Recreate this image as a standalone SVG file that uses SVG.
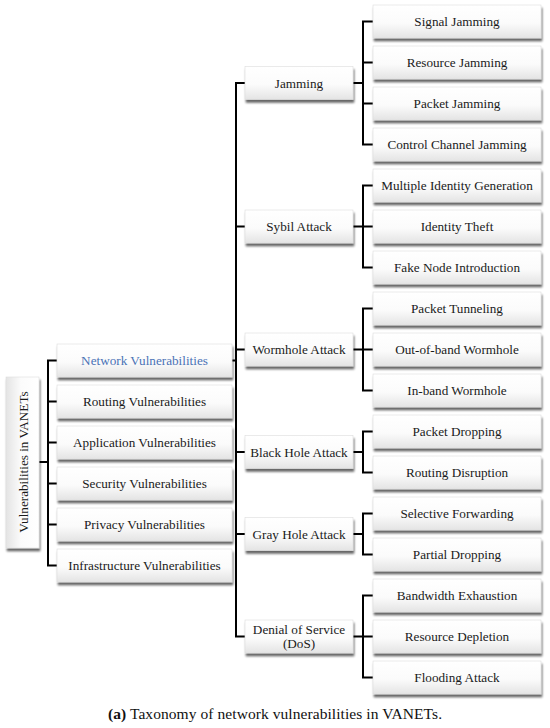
<svg xmlns="http://www.w3.org/2000/svg" width="550" height="728" viewBox="0 0 550 728">
<defs>
<linearGradient id="g" x1="0" y1="0" x2="0" y2="1">
<stop offset="0" stop-color="#ffffff"/>
<stop offset="0.55" stop-color="#fbfbfb"/>
<stop offset="1" stop-color="#e4e4e4"/>
</linearGradient>
<linearGradient id="gv" x1="1" y1="0" x2="0" y2="0">
<stop offset="0" stop-color="#ffffff"/>
<stop offset="0.55" stop-color="#fbfbfb"/>
<stop offset="1" stop-color="#e4e4e4"/>
</linearGradient>
<filter id="sh" x="-10%" y="-20%" width="125%" height="160%">
<feGaussianBlur in="SourceAlpha" stdDeviation="1.3"/>
<feOffset dx="1" dy="2.5" result="b"/>
<feComponentTransfer><feFuncA type="linear" slope="0.6"/></feComponentTransfer>
<feMerge><feMergeNode/><feMergeNode in="SourceGraphic"/></feMerge>
</filter>
</defs>
<style>
.b{fill:url(#g);stroke:#dcdcdc;stroke-width:0.6;filter:url(#sh)}
.bv{fill:url(#gv);stroke:#dcdcdc;stroke-width:0.6;filter:url(#sh)}
text{font-family:"Liberation Serif","Times New Roman",serif;font-size:13.2px;fill:#1a1a1a;text-anchor:middle;dominant-baseline:central}
.blue{fill:#4a72b6}
.c{fill:none;stroke:#000;stroke-width:2;stroke-linejoin:miter;stroke-linecap:butt}
.cap{font-family:"Liberation Serif","Times New Roman",serif;font-size:15.5px;fill:#111}
</style>
<rect width="550" height="728" fill="#fff"/>

<g id="connectors" class="c">
<path d="M39,462 H48 M57,360.5 H48 V565.5 H57 M48,401.5 H57 M48,442.5 H57 M48,483.5 H57 M48,524.5 H57"/>
<path d="M232,360.5 H236 M245,83 H236 V636.5 H245 M236,226.5 H245 M236,349.5 H245 M236,452 H245 M236,534 H245"/>
<path d="M353,83 H363 M373,21.5 H363 V144.5 H373 M363,62.5 H373 M363,103.5 H373"/>
<path d="M353,226.5 H363 M373,185.5 H363 V267.5 H373 M363,226.5 H373"/>
<path d="M353,349.5 H363 M373,308.5 H363 V390.5 H373 M363,349.5 H373"/>
<path d="M353,452 H363 M373,431.5 H363 V472.5 H373"/>
<path d="M353,534 H363 M373,513.5 H363 V554.5 H373"/>
<path d="M353,636.5 H363 M373,595.5 H363 V677.5 H373 M363,636.5 H373"/>
</g>

<g id="root"><rect class="bv" x="6" y="377" width="33" height="171"/><text transform="translate(23,462) rotate(-90)" font-size="13.5">Vulnerabilities in VANETs</text></g>

<g id="network"><rect class="b" x="57" y="344" width="175" height="33"/><text class="blue" x="144.5" y="360.5">Network Vulnerabilities</text></g>
<g id="routing"><rect class="b" x="57" y="385" width="175" height="33"/><text x="144.5" y="401.5">Routing Vulnerabilities</text></g>
<g id="application"><rect class="b" x="57" y="426" width="175" height="33"/><text x="144.5" y="442.5">Application Vulnerabilities</text></g>
<g id="security"><rect class="b" x="57" y="467" width="175" height="33"/><text x="144.5" y="483.5">Security Vulnerabilities</text></g>
<g id="privacy"><rect class="b" x="57" y="508" width="175" height="33"/><text x="144.5" y="524.5">Privacy Vulnerabilities</text></g>
<g id="infrastructure"><rect class="b" x="57" y="549" width="175" height="33"/><text x="144.5" y="565.5">Infrastructure Vulnerabilities</text></g>

<g id="jamming"><rect class="b" x="245" y="66.5" width="108" height="33"/><text x="299" y="83">Jamming</text></g>
<g id="sybil"><rect class="b" x="245" y="210" width="108" height="33"/><text x="299" y="226.5">Sybil Attack</text></g>
<g id="wormhole"><rect class="b" x="245" y="333" width="108" height="33"/><text x="299" y="349.5">Wormhole Attack</text></g>
<g id="blackhole"><rect class="b" x="245" y="435.5" width="108" height="33"/><text x="299" y="452">Black Hole Attack</text></g>
<g id="grayhole"><rect class="b" x="245" y="517.5" width="108" height="33"/><text x="299" y="534">Gray Hole Attack</text></g>
<g id="dos"><rect class="b" x="245" y="620" width="108" height="33"/><text x="299" y="629.5">Denial of Service</text><text x="299" y="643.5">(DoS)</text></g>

<g id="signal"><rect class="b" x="373" y="5" width="168" height="33"/><text x="457" y="21.5">Signal Jamming</text></g>
<g id="resource"><rect class="b" x="373" y="46" width="168" height="33"/><text x="457" y="62.5">Resource Jamming</text></g>
<g id="packetj"><rect class="b" x="373" y="87" width="168" height="33"/><text x="457" y="103.5">Packet Jamming</text></g>
<g id="control"><rect class="b" x="373" y="128" width="168" height="33"/><text x="457" y="144.5">Control Channel Jamming</text></g>
<g id="multiple"><rect class="b" x="373" y="169" width="168" height="33"/><text x="457" y="185.5">Multiple Identity Generation</text></g>
<g id="theft"><rect class="b" x="373" y="210" width="168" height="33"/><text x="457" y="226.5">Identity Theft</text></g>
<g id="fake"><rect class="b" x="373" y="251" width="168" height="33"/><text x="457" y="267.5">Fake Node Introduction</text></g>
<g id="tunneling"><rect class="b" x="373" y="292" width="168" height="33"/><text x="457" y="308.5">Packet Tunneling</text></g>
<g id="outofband"><rect class="b" x="373" y="333" width="168" height="33"/><text x="457" y="349.5">Out-of-band Wormhole</text></g>
<g id="inband"><rect class="b" x="373" y="374" width="168" height="33"/><text x="457" y="390.5">In-band Wormhole</text></g>
<g id="dropping"><rect class="b" x="373" y="415" width="168" height="33"/><text x="457" y="431.5">Packet Dropping</text></g>
<g id="disruption"><rect class="b" x="373" y="456" width="168" height="33"/><text x="457" y="472.5">Routing Disruption</text></g>
<g id="selective"><rect class="b" x="373" y="497" width="168" height="33"/><text x="457" y="513.5">Selective Forwarding</text></g>
<g id="partial"><rect class="b" x="373" y="538" width="168" height="33"/><text x="457" y="554.5">Partial Dropping</text></g>
<g id="bandwidth"><rect class="b" x="373" y="579" width="168" height="33"/><text x="457" y="595.5">Bandwidth Exhaustion</text></g>
<g id="depletion"><rect class="b" x="373" y="620" width="168" height="33"/><text x="457" y="636.5">Resource Depletion</text></g>
<g id="flooding"><rect class="b" x="373" y="661" width="168" height="33"/><text x="457" y="677.5">Flooding Attack</text></g>

<text class="cap" x="275" y="713" textLength="334" lengthAdjust="spacing"><tspan font-weight="bold">(a)</tspan> Taxonomy of network vulnerabilities in VANETs.</text>
</svg>
